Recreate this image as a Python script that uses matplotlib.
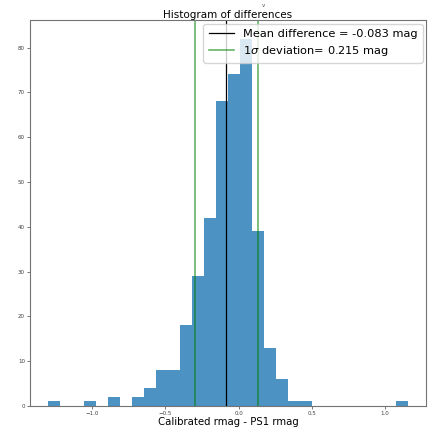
import matplotlib
matplotlib.use('Agg')
import matplotlib.pyplot as plt
import numpy as np

# histogram of calibrated minus PS1 magnitudes (30 equal bins)
hist_range = [-1.30, 1.155]
counts = [1, 0, 0, 1, 0, 2, 0, 2, 4, 8,
          8, 18, 29, 42, 68, 74, 82, 39, 13, 6,
          1, 1, 0, 0, 0, 0, 0, 0, 0, 1]
mean_diff = -0.083
sigma = 0.215

edges = np.linspace(hist_range[0], hist_range[1], len(counts) + 1)
centers = 0.5 * (edges[:-1] + edges[1:])

fig = plt.figure(figsize=(4.32, 4.30), dpi=100)
ax = fig.add_axes([0.069, 0.056, 0.917, 0.897])

ax.hist(centers, bins=edges, weights=counts, color='#1f77b4', alpha=0.8)
ax.axvline(mean_diff, color='k', lw=0.9, label='Mean difference = %.3f mag' % mean_diff)
ax.axvline(mean_diff - sigma, color='g', lw=1.2, alpha=0.6,
           label=r'1$\sigma$ deviation= %.3f mag' % sigma)
ax.axvline(mean_diff + sigma, color='g', lw=1.2, alpha=0.6)

ax.set_title('Histogram of differences', fontsize=7.5, pad=1.5)
ax.set_xlabel('Calibrated rmag - PS1 rmag', fontsize=7.3, labelpad=1)
ax.tick_params(labelsize=4, length=2, width=0.5, pad=1.5, colors='0.25')
for s in ax.spines.values():
    s.set_color('0.45')
    s.set_linewidth(0.8)

ax.legend(loc='upper right', fontsize=8.2, handlelength=2.2, borderaxespad=0.3,
          labelspacing=0.42, borderpad=0.45)

fig.text(0.61, 0.988, 'v', fontsize=4, ha='center', va='center', color='0.3')

fig.savefig('out.png', dpi=100)
